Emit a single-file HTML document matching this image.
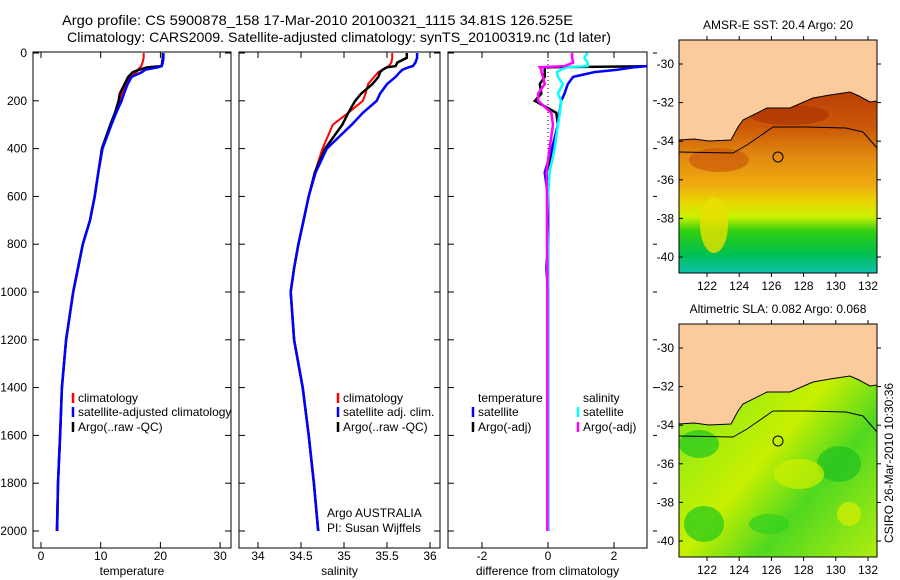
<!DOCTYPE html>
<html><head><meta charset="utf-8">
<style>
html,body{margin:0;padding:0;background:#fff;}
svg{display:block;font-family:"Liberation Sans",sans-serif;}
text{font-size:12px;fill:#000;}
</style></head>
<body>
<svg id="fig" width="900" height="580" viewBox="0 0 900 580">
<defs>
<clipPath id="c1"><rect x="33" y="52" width="198" height="496"/></clipPath>
<clipPath id="c2"><rect x="239" y="52" width="201" height="496"/></clipPath>
<clipPath id="c3"><rect x="448" y="52" width="199" height="496"/></clipPath>
<linearGradient id="sst" x1="0" y1="0" x2="0" y2="1">
<stop offset="0.2" stop-color="#b83a06"/><stop offset="0.38" stop-color="#cc5a08"/>
<stop offset="0.5" stop-color="#e08a10"/><stop offset="0.62" stop-color="#f0aa10"/>
<stop offset="0.7" stop-color="#e8d800"/><stop offset="0.76" stop-color="#c8f000"/>
<stop offset="0.82" stop-color="#30d010"/><stop offset="0.92" stop-color="#00c050"/>
<stop offset="1" stop-color="#10c0b0"/></linearGradient>
<linearGradient id="sla" x1="0" y1="0" x2="1" y2="1">
<stop offset="0" stop-color="#60dc20"/><stop offset="0.3" stop-color="#a0ec10"/>
<stop offset="0.5" stop-color="#c8f000"/><stop offset="0.7" stop-color="#50d820"/>
<stop offset="1" stop-color="#b0ee10"/></linearGradient>
</defs>
<text x="62" y="25" textLength="511" lengthAdjust="spacingAndGlyphs" style="font-size:14px">Argo profile: CS 5900878_158 17-Mar-2010 20100321_1115 34.81S 126.525E</text>
<text x="67" y="42" textLength="544" lengthAdjust="spacingAndGlyphs" style="font-size:14px">Climatology: CARS2009. Satellite-adjusted climatology: synTS_20100319.nc (1d later)</text>
<g id="g1"></g>
<g id="g2"></g>
<g id="g3"></g>
<g id="maps"></g>
<text transform="translate(893,463) rotate(-90)" text-anchor="middle">CSIRO 26-Mar-2010 10:30:36</text>
</svg>
<script>
const depths=[0,20,40,55,60,70,80,100,130,170,200,250,300,400,500,600,700,800,900,1000,1200,1400,1600,1800,2000];
const tempArgo=[20.4,20.4,20.3,20.2,17.8,16.5,15.4,14.6,14.0,13.2,13.0,12.4,11.6,10.2,9.6,9.0,8.2,7.0,6.2,5.4,4.2,3.5,3.2,2.85,2.7];
const tempClim=[17.2,17.2,17.0,16.8,16.6,16.2,16.0,15.0,14.2,13.5,13.2,12.5,11.7,10.3,9.6,9.0,8.2,7.0,6.2,5.4,4.2,3.5,3.2,2.85,2.6];
const tempSat=[20.5,20.5,20.4,20.2,19.6,17.5,16.9,15.2,14.5,13.9,13.5,12.6,11.8,10.3,9.6,9.0,8.2,7.0,6.2,5.4,4.2,3.5,3.2,2.85,2.7];
const salArgo=[35.73,35.73,35.62,35.6,35.5,35.45,35.42,35.40,35.33,35.2,35.13,35.05,34.98,34.78,34.66,34.59,34.53,34.47,34.42,34.38,34.42,34.52,34.59,34.65,34.70];
const salClim=[35.56,35.56,35.55,35.52,35.5,35.45,35.4,35.35,35.28,35.25,35.22,35.05,34.87,34.75,34.66,34.59,34.53,34.47,34.42,34.38,34.42,34.52,34.59,34.65,34.70];
const salSat=[35.85,35.85,35.83,35.8,35.75,35.68,35.65,35.6,35.5,35.42,35.38,35.22,35.09,34.8,34.67,34.59,34.53,34.47,34.42,34.38,34.42,34.52,34.59,34.65,34.70];
const diffTempSat=[3.2,3.1,3.05,3.0,2.6,2.1,1.4,0.76,0.6,0.5,0.4,0.35,0.3,0.12,-0.1,0,0,0,-0.05,0,0,0,0,0,0];
const diffTempArgo=[3.2,3.2,3.3,3.4,-0.1,-0.1,-0.1,-0.1,-0.25,-0.2,-0.4,0.25,0.3,0.15,-0.05,0,0,0,0,0,0,0,0,0,0];
const diffSalSat=[1.2,1.1,1.2,1.2,0.58,0.4,0.27,0.3,0.45,0.3,0.4,0.36,0.3,0.2,0.05,0,-0.03,0,0,0,0,0,0,0,0];
const diffSalArgo=[0.73,0.73,0.76,0.5,-0.25,-0.2,-0.2,-0.15,-0.1,-0.3,-0.3,0.1,0.15,0.05,-0.05,-0.03,-0.03,-0.03,-0.02,-0.02,-0.02,-0.02,-0.02,-0.02,-0.02];
const depthTicks=[0,200,400,600,800,1000,1200,1400,1600,1800,2000];
const tempTicks=[0,10,20,30];
const salTicks=[34,34.5,35,35.5,36];
const diffTicks=[-2,0,2];

const NS='http://www.w3.org/2000/svg';
function el(tag,attrs,parent){const e=document.createElementNS(NS,tag);for(const k in attrs)e.setAttribute(k,attrs[k]);parent.appendChild(e);return e;}
const yD=d=>53+d*0.239;
const TOP=52,BOT=548;

function panel(g,x0,x1,xs,ticks,fmt,title,ylabels,clip,outsideRight){
  const r=el('rect',{x:x0,y:TOP,width:x1-x0,height:BOT-TOP,fill:'none',stroke:'#000','stroke-width':1},g);
  
  
  depthTicks.forEach(d=>{const y=yD(d);
    el('line',{x1:x0,x2:x0+6,y1:y,y2:y,stroke:'#000'},g);
    if(outsideRight) el('line',{x1:x1+6,x2:x1+10,y1:y,y2:y,stroke:'#000'},g);
    else el('line',{x1:x1-6,x2:x1,y1:y,y2:y,stroke:'#000'},g);
    if(ylabels){const t=el('text',{x:x0-6,y:y+4,'text-anchor':'end'},g);t.textContent=d;
      
      }
  });
  ticks.forEach(v=>{const x=xs(v);
    el('line',{x1:x,x2:x,y1:TOP,y2:TOP+6,stroke:'#000'},g);
    el('line',{x1:x,x2:x,y1:BOT-6,y2:BOT,stroke:'#000'},g);
    const t=el('text',{x:x,y:560,'text-anchor':'middle'},g);t.textContent=fmt(v);
    
    
  });
  const t=el('text',{x:(x0+x1)/2,y:575,'text-anchor':'middle'},g);t.textContent=title;
  
  
}
function series(g,vals,xs,color,w,clip,name){
  const pts=vals.map((v,i)=>xs(v).toFixed(1)+','+yD(depths[i]).toFixed(1)).join(' ');
  const p=el('polyline',{points:pts,fill:'none',stroke:color,'stroke-width':w,'clip-path':'url(#'+clip+')','stroke-linejoin':'miter'},g);
  
  
}
function legend(g,x,items){
  items.forEach(it=>{const y=it[2];
    if(it[0]) el('line',{x1:x,x2:x,y1:y-9,y2:y+1,stroke:it[0],'stroke-width':2.5},g);
    const t=el('text',{x:x+5,y:y},g);t.textContent=it[1];
    
    });
}

const g1=document.getElementById('g1');
const xT=v=>41+v*5.97;
panel(g1,33,231,xT,tempTicks,v=>v,'temperature',true,'c1');
series(g1,tempClim,xT,'#f00',2,'c1','climatology-temperature-line');
series(g1,tempArgo,xT,'#000',2.5,'c1','argo-temperature-line');
series(g1,tempSat,xT,'#00f',2.5,'c1','satellite-temperature-line');
legend(g1,73,[['#f00','climatology',402],['#00f','satellite-adjusted climatology',416],['#000','Argo(..raw -QC)',431]]);

const g2=document.getElementById('g2');
const xS=v=>258+(v-34)*86;
panel(g2,239,440,xS,salTicks,v=>v,'salinity',false,'c2');
series(g2,salClim,xS,'#f00',2,'c2','climatology-salinity-line');
series(g2,salArgo,xS,'#000',2.5,'c2','argo-salinity-line');
series(g2,salSat,xS,'#00f',2.5,'c2','satellite-salinity-line');
legend(g2,338,[['#f00','climatology',402],['#00f','satellite adj. clim.',416],['#000','Argo(..raw -QC)',431]]);
[['Argo AUSTRALIA',517],['PI: Susan Wijffels',532]].forEach(a=>{const t=el('text',{x:327,y:a[1]},g2);t.textContent=a[0];
  
  });

const g3=document.getElementById('g3');
const xDf=v=>548+v*33;
panel(g3,448,647,xDf,diffTicks,v=>v,'difference from climatology',false,'c3',true);
el('line',{x1:xDf(0),x2:xDf(0),y1:TOP,y2:170,stroke:'#000','stroke-dasharray':'1,3'},g3);
series(g3,diffTempArgo,xDf,'#000',2.5,'c3','temperature-argo-diff-line');
series(g3,diffTempSat,xDf,'#00f',2.5,'c3','temperature-satellite-diff-line');
series(g3,diffSalSat,xDf,'#0ff',2.5,'c3','salinity-satellite-diff-line');
series(g3,diffSalArgo,xDf,'#f0f',2.5,'c3','salinity-argo-diff-line');
legend(g3,473,[[null,'temperature',402],['#00f','satellite',416],['#000','Argo(-adj)',431]]);
legend(g3,578,[[null,'salinity',402],['#0ff','satellite',416],['#f0f','Argo(-adj)',431]]);

const maps=document.getElementById('maps');
const coast="0,100 15,99 30,101 52,100 59,87 64,80 88,68 111,68 134,58 151,55 171,52 180,56 191,62 198,61";
const iso="0,112 54,113 68,105 94,87 127,87 167,88 184,92 198,108";
const latTicks=[-30,-32,-34,-36,-38,-40];
const lonTicks=[122,124,126,128,130,132];
function map(dy,fill,title,name){
  const g=el('g',{transform:'translate(679,'+(40+dy)+')'},maps);
  
  
  el('rect',{x:0,y:0,width:198,height:233,fill:fill},g);
  if(name==='sst-map'){
    el('ellipse',{cx:40,cy:120,rx:30,ry:12,fill:'#c85008',opacity:0.6},g);
    el('ellipse',{cx:110,cy:75,rx:40,ry:10,fill:'#a83004',opacity:0.6},g);
    el('ellipse',{cx:35,cy:185,rx:14,ry:28,fill:'#e8e000',opacity:0.8},g);
  } else {
    [[20,120,20,14,'#20c820'],[25,200,20,18,'#20c820'],[160,140,22,18,'#20c020'],[120,150,25,15,'#d0f000'],[90,200,20,10,'#30d020'],[170,190,12,12,'#d8f000']].forEach(e=>el('ellipse',{cx:e[0],cy:e[1],rx:e[2],ry:e[3],fill:e[4],opacity:0.7},g));
  }
  el('polygon',{points:'0,0 '+coast+' 198,0',fill:'#fccb9b'},g);
  el('polyline',{points:coast,fill:'none',stroke:'#000','stroke-width':1},g);
  el('polyline',{points:iso,fill:'none',stroke:'#000','stroke-width':1},g);
  el('circle',{cx:99,cy:117,r:5,fill:'none',stroke:'#000'},g);
  el('rect',{x:0,y:0,width:198,height:233,fill:'none',stroke:'#000'},g);
  latTicks.forEach(v=>{const y=24+(-30-v)*19.3;
    el('line',{x1:0,x2:4,y1:y,y2:y,stroke:'#000'},g);
    el('line',{x1:198,x2:202,y1:y,y2:y,stroke:'#000'},g);
    const t=el('text',{x:-5,y:y+4,'text-anchor':'end'},g);t.textContent=v;
    
    });
  lonTicks.forEach(v=>{const x=28+(v-122)*16.1;
    el('line',{x1:x,x2:x,y1:0,y2:-4,stroke:'#000'},g);
    el('line',{x1:x,x2:x,y1:233,y2:237,stroke:'#000'},g);
    const t=el('text',{x:x,y:250,'text-anchor':'middle'},g);t.textContent=v;
    
    });
  const t=el('text',{x:99,y:-11,'text-anchor':'middle'},g);t.textContent=title;
  
  
}
map(0,'url(#sst)','AMSR-E SST: 20.4 Argo: 20','sst-map');
map(284,'url(#sla)','Altimetric SLA: 0.082 Argo: 0.068','sla-map');
</script>
</body></html>
